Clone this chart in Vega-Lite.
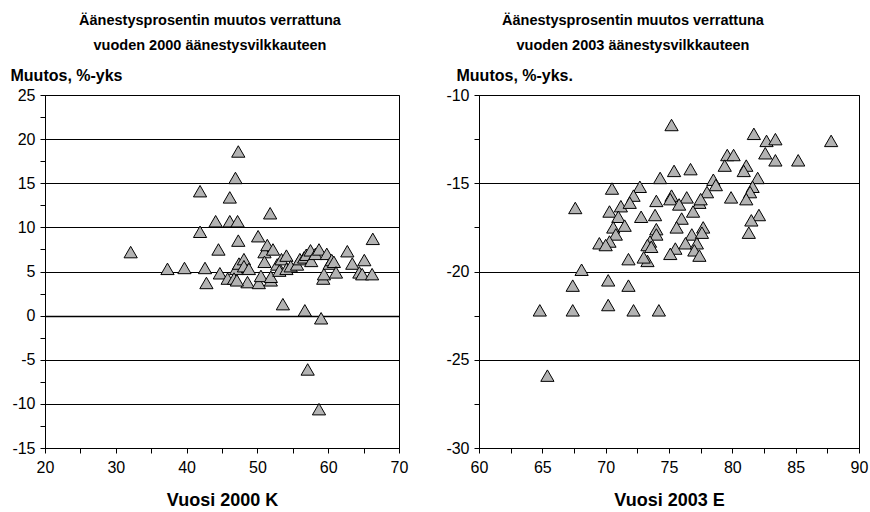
{
  "$schema": "https://vega.github.io/schema/vega-lite/v6.json",
  "background": "white",
  "padding": {"left": 9, "top": 12, "right": 5, "bottom": 0},
  "bounds": "flush",
  "spacing": 80,
  "config": {
    "font": "Liberation Sans",
    "view": {"stroke": "black", "strokeWidth": 1},
    "axis": {
      "labelFont": "Liberation Sans",
      "labelFontSize": 16,
      "labelColor": "black",
      "labelFlush": false,
      "tickColor": "black",
      "tickSize": 5,
      "domainColor": "black",
      "titleFont": "Liberation Sans",
      "titleColor": "black",
      "titleFontWeight": "bold"
    },
    "title": {"font": "Liberation Sans", "fontSize": 14.5, "fontWeight": "bold", "color": "black", "lineHeight": 25}
  },
  "datasets": {
    "k2000": [
      {"x": 32.1, "y": 7.2}, {"x": 37.3, "y": 5.3}, {"x": 39.7, "y": 5.4}, {"x": 41.9, "y": 14.1},
      {"x": 41.9, "y": 9.5}, {"x": 42.6, "y": 5.4}, {"x": 42.8, "y": 3.7}, {"x": 44.1, "y": 10.7},
      {"x": 44.5, "y": 7.5}, {"x": 44.7, "y": 4.8}, {"x": 45.8, "y": 4.2}, {"x": 46.1, "y": 13.4},
      {"x": 46.1, "y": 10.7}, {"x": 46.9, "y": 15.6}, {"x": 47.3, "y": 18.6}, {"x": 47.2, "y": 10.7},
      {"x": 47.3, "y": 8.5}, {"x": 47.0, "y": 5.3}, {"x": 46.7, "y": 4.2}, {"x": 47.4, "y": 5.9},
      {"x": 48.1, "y": 6.4}, {"x": 48.1, "y": 5.6}, {"x": 48.8, "y": 5.3}, {"x": 48.6, "y": 3.8},
      {"x": 47.1, "y": 4.0}, {"x": 50.1, "y": 9.0}, {"x": 50.2, "y": 3.7}, {"x": 51.0, "y": 7.2},
      {"x": 51.0, "y": 6.1}, {"x": 51.4, "y": 8.0}, {"x": 51.8, "y": 11.6}, {"x": 50.5, "y": 4.5},
      {"x": 51.9, "y": 4.0}, {"x": 51.9, "y": 4.4}, {"x": 52.2, "y": 7.5}, {"x": 52.8, "y": 5.8},
      {"x": 53.1, "y": 5.1}, {"x": 53.4, "y": 6.4}, {"x": 53.6, "y": 1.3}, {"x": 54.1, "y": 6.8},
      {"x": 54.1, "y": 5.3}, {"x": 54.7, "y": 5.6}, {"x": 55.6, "y": 5.8}, {"x": 56.0, "y": 6.4},
      {"x": 56.6, "y": 6.6}, {"x": 56.9, "y": 6.9}, {"x": 56.7, "y": 0.6}, {"x": 57.1, "y": -6.1},
      {"x": 57.5, "y": 7.4}, {"x": 57.6, "y": 6.2}, {"x": 58.2, "y": 7.0}, {"x": 58.7, "y": 7.5},
      {"x": 58.7, "y": -10.6}, {"x": 59.0, "y": -0.3}, {"x": 59.3, "y": 4.2}, {"x": 59.4, "y": 4.7},
      {"x": 59.8, "y": 7.0}, {"x": 60.2, "y": 5.9}, {"x": 60.5, "y": 6.3}, {"x": 60.8, "y": 6.1},
      {"x": 61.1, "y": 4.9}, {"x": 62.7, "y": 7.3}, {"x": 63.4, "y": 5.9}, {"x": 64.4, "y": 4.9},
      {"x": 65.1, "y": 6.3}, {"x": 64.8, "y": 4.7}, {"x": 66.2, "y": 4.7}, {"x": 66.3, "y": 8.7}
    ],
    "e2003": [
      {"x": 75.2, "y": -11.7}, {"x": 81.7, "y": -12.2}, {"x": 82.7, "y": -12.6}, {"x": 83.4, "y": -12.5},
      {"x": 87.8, "y": -12.6}, {"x": 82.6, "y": -13.3}, {"x": 83.4, "y": -13.7}, {"x": 85.2, "y": -13.7},
      {"x": 79.6, "y": -13.4}, {"x": 80.1, "y": -13.4}, {"x": 79.4, "y": -14.0}, {"x": 81.1, "y": -14.0},
      {"x": 80.9, "y": -14.3}, {"x": 75.4, "y": -14.3}, {"x": 76.7, "y": -14.2}, {"x": 74.3, "y": -14.7},
      {"x": 82.0, "y": -14.7}, {"x": 78.5, "y": -14.8}, {"x": 78.7, "y": -15.1}, {"x": 70.5, "y": -15.3},
      {"x": 72.7, "y": -15.2}, {"x": 81.6, "y": -15.2}, {"x": 81.4, "y": -15.5}, {"x": 72.2, "y": -15.7},
      {"x": 75.2, "y": -15.7}, {"x": 75.1, "y": -15.9}, {"x": 76.4, "y": -15.8}, {"x": 78.0, "y": -15.5},
      {"x": 79.9, "y": -15.8}, {"x": 81.1, "y": -15.9}, {"x": 74.0, "y": -16.0}, {"x": 75.8, "y": -16.2},
      {"x": 77.4, "y": -16.1}, {"x": 77.5, "y": -15.9}, {"x": 67.6, "y": -16.4}, {"x": 70.3, "y": -16.6},
      {"x": 71.2, "y": -16.3}, {"x": 71.9, "y": -16.1}, {"x": 76.9, "y": -16.6}, {"x": 82.1, "y": -16.8},
      {"x": 72.8, "y": -16.9}, {"x": 73.9, "y": -16.8}, {"x": 71.0, "y": -16.9}, {"x": 76.0, "y": -17.0},
      {"x": 81.5, "y": -17.1}, {"x": 70.6, "y": -17.5}, {"x": 71.5, "y": -17.4}, {"x": 74.0, "y": -17.6},
      {"x": 75.6, "y": -17.5}, {"x": 77.7, "y": -17.5}, {"x": 81.3, "y": -17.8}, {"x": 70.8, "y": -17.9},
      {"x": 74.0, "y": -17.9}, {"x": 76.8, "y": -17.9}, {"x": 77.6, "y": -17.8}, {"x": 70.3, "y": -18.3},
      {"x": 69.5, "y": -18.4}, {"x": 70.0, "y": -18.5}, {"x": 73.5, "y": -18.3}, {"x": 76.3, "y": -18.4},
      {"x": 77.2, "y": -18.4}, {"x": 73.3, "y": -18.5}, {"x": 73.6, "y": -18.6}, {"x": 75.5, "y": -18.7},
      {"x": 77.0, "y": -18.8}, {"x": 75.1, "y": -19.0}, {"x": 77.4, "y": -19.1}, {"x": 71.8, "y": -19.3},
      {"x": 73.3, "y": -19.4}, {"x": 73.0, "y": -19.2}, {"x": 68.1, "y": -19.9}, {"x": 67.4, "y": -20.8},
      {"x": 70.2, "y": -20.5}, {"x": 71.8, "y": -20.8}, {"x": 64.8, "y": -22.2}, {"x": 67.4, "y": -22.2},
      {"x": 70.2, "y": -21.9}, {"x": 72.2, "y": -22.2}, {"x": 74.2, "y": -22.2}, {"x": 65.4, "y": -25.9}
    ]
  },
  "hconcat": [
    {
      "width": 354,
      "height": 353,
      "title": {"text": ["Äänestysprosentin muutos verrattuna", "vuoden 2000 äänestysvilkkauteen"], "anchor": "middle", "frame": "group", "dx": -12, "offset": 14},
      "data": {"name": "k2000"},
      "mark": {"type": "point", "shape": "triangle-up", "filled": true, "fill": "#b3b3b3", "stroke": "black", "strokeWidth": 1, "opacity": 1, "size": 175},
      "encoding": {
        "x": {
          "field": "x", "type": "quantitative",
          "scale": {"domain": [20, 70], "nice": false, "zero": false},
          "axis": {
            "title": "Vuosi 2000 K", "titleFontSize": 18, "titlePadding": 16,
            "values": [20, 25, 30, 35, 40, 45, 50, 55, 60, 65, 70],
            "labelExpr": "datum.value % 10 === 0 ? '' + datum.value : ''",
            "grid": false, "labelPadding": 6
          }
        },
        "y": {
          "field": "y", "type": "quantitative",
          "scale": {"domain": [-15, 25], "nice": false, "zero": false},
          "axis": {
            "title": "Muutos, %-yks", "titleAngle": 0, "titleAlign": "left", "titleBaseline": "alphabetic",
            "titleX": -35, "titleY": -15, "titleFontSize": 16,
            "values": [-15, -12.5, -10, -7.5, -5, -2.5, 0, 2.5, 5, 7.5, 10, 12.5, 15, 17.5, 20, 22.5, 25],
            "labelExpr": "datum.value % 5 === 0 ? '' + datum.value : ''",
            "grid": true, "gridColor": "black",
            "gridOpacity": {"condition": {"test": "datum.value % 5 === 0", "value": 1}, "value": 0},
            "gridWidth": {"condition": {"test": "datum.value === 0", "value": 1.6}, "value": 1},
            "labelPadding": 5
          }
        }
      }
    },
    {
      "width": 380,
      "height": 353,
      "title": {"text": ["Äänestysprosentin muutos verrattuna", "vuoden 2003 äänestysvilkkauteen"], "anchor": "middle", "frame": "group", "dx": -36, "offset": 14},
      "data": {"name": "e2003"},
      "mark": {"type": "point", "shape": "triangle-up", "filled": true, "fill": "#b3b3b3", "stroke": "black", "strokeWidth": 1, "opacity": 1, "size": 175},
      "encoding": {
        "x": {
          "field": "x", "type": "quantitative",
          "scale": {"domain": [60, 90], "nice": false, "zero": false},
          "axis": {
            "title": "Vuosi 2003 E", "titleFontSize": 18, "titlePadding": 16,
            "values": [60, 62.5, 65, 67.5, 70, 72.5, 75, 77.5, 80, 82.5, 85, 87.5, 90],
            "labelExpr": "datum.value % 5 === 0 ? '' + datum.value : ''",
            "grid": false, "labelPadding": 6
          }
        },
        "y": {
          "field": "y", "type": "quantitative",
          "scale": {"domain": [-30, -10], "nice": false, "zero": false},
          "axis": {
            "title": "Muutos, %-yks.", "titleAngle": 0, "titleAlign": "left", "titleBaseline": "alphabetic",
            "titleX": -23, "titleY": -15, "titleFontSize": 16,
            "values": [-30, -27.5, -25, -22.5, -20, -17.5, -15, -12.5, -10],
            "labelExpr": "datum.value % 5 === 0 ? '' + datum.value : ''",
            "grid": true, "gridColor": "black",
            "gridOpacity": {"condition": {"test": "datum.value % 5 === 0", "value": 1}, "value": 0},
            "labelPadding": 5
          }
        }
      }
    }
  ]
}
